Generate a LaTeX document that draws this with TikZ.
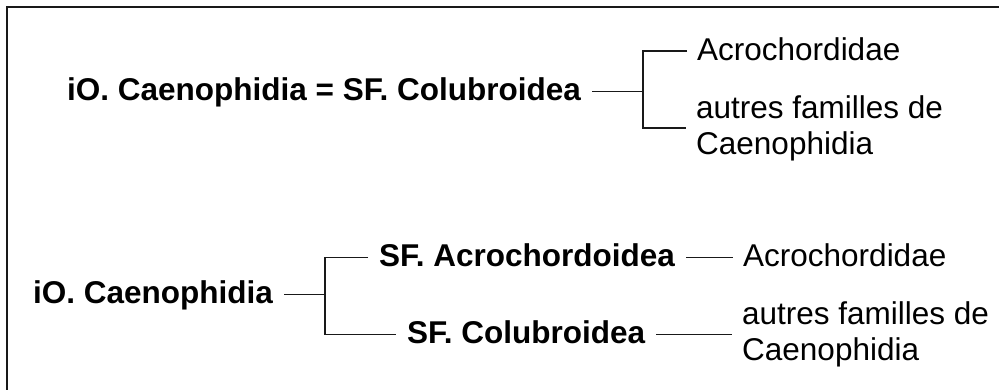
\documentclass[tikz,border=0pt]{standalone}
\usepackage{fontspec}
\setmainfont{Liberation Sans}
\begin{document}
\begin{tikzpicture}[x=1pt,y=-1pt,
  bnode/.style={font=\bfseries\fontsize{31.5}{36}\selectfont, inner xsep=11pt, inner ysep=0pt, text height=23pt, text depth=6pt},
  lnode/.style={font=\fontsize{31.5}{36}\selectfont, inner xsep=10pt, inner ysep=0pt, align=left},
  conn/.style={line width=1.8pt, draw=black!90},
  frame/.style={line width=2pt, draw=black!90}]
\useasboundingbox (0,0) rectangle (999,389);
\draw[frame] (7,395) -- (7,7) -- (1005,7);
% top group
\node[bnode, anchor=base west] (r1) at (56,100) {iO. Caenophidia = SF. Colubroidea};
\node[lnode, anchor=base west, text height=23pt, text depth=5pt] (a1) at (687,60) {Acrochordidae};
\node[lnode, anchor=west] (b1) at (686,128) {autres familles de\\Caenophidia};
\coordinate (j1) at (643,91.5);
\draw[conn] (r1.east) -- (r1.east -| j1);
\draw[conn] (a1.west) -| (j1) |- (b1.west);
% bottom group
\node[bnode, anchor=base west] (r2) at (22,303) {iO. Caenophidia};
\coordinate (j2) at (325,294.5);
\node[bnode, anchor=base west] (s1) at (368,266) {SF. Acrochordoidea};
\node[bnode, anchor=base west] (s2) at (396,343) {SF. Colubroidea};
\draw[conn] (r2.east) -- (r2.east -| j2);
\draw[conn] (s1.west) -| (j2) |- (s2.west);
\node[lnode, anchor=base west, text height=23pt, text depth=5pt] (a2) at (733,266) {Acrochordidae};
\node[lnode, anchor=west] (b2) at (732,334.5) {autres familles de\\Caenophidia};
\draw[conn] (s1.east) -- (s1.east -| a2.west);
\draw[conn] (s2.east) -- (s2.east -| b2.west);
\end{tikzpicture}
\end{document}
